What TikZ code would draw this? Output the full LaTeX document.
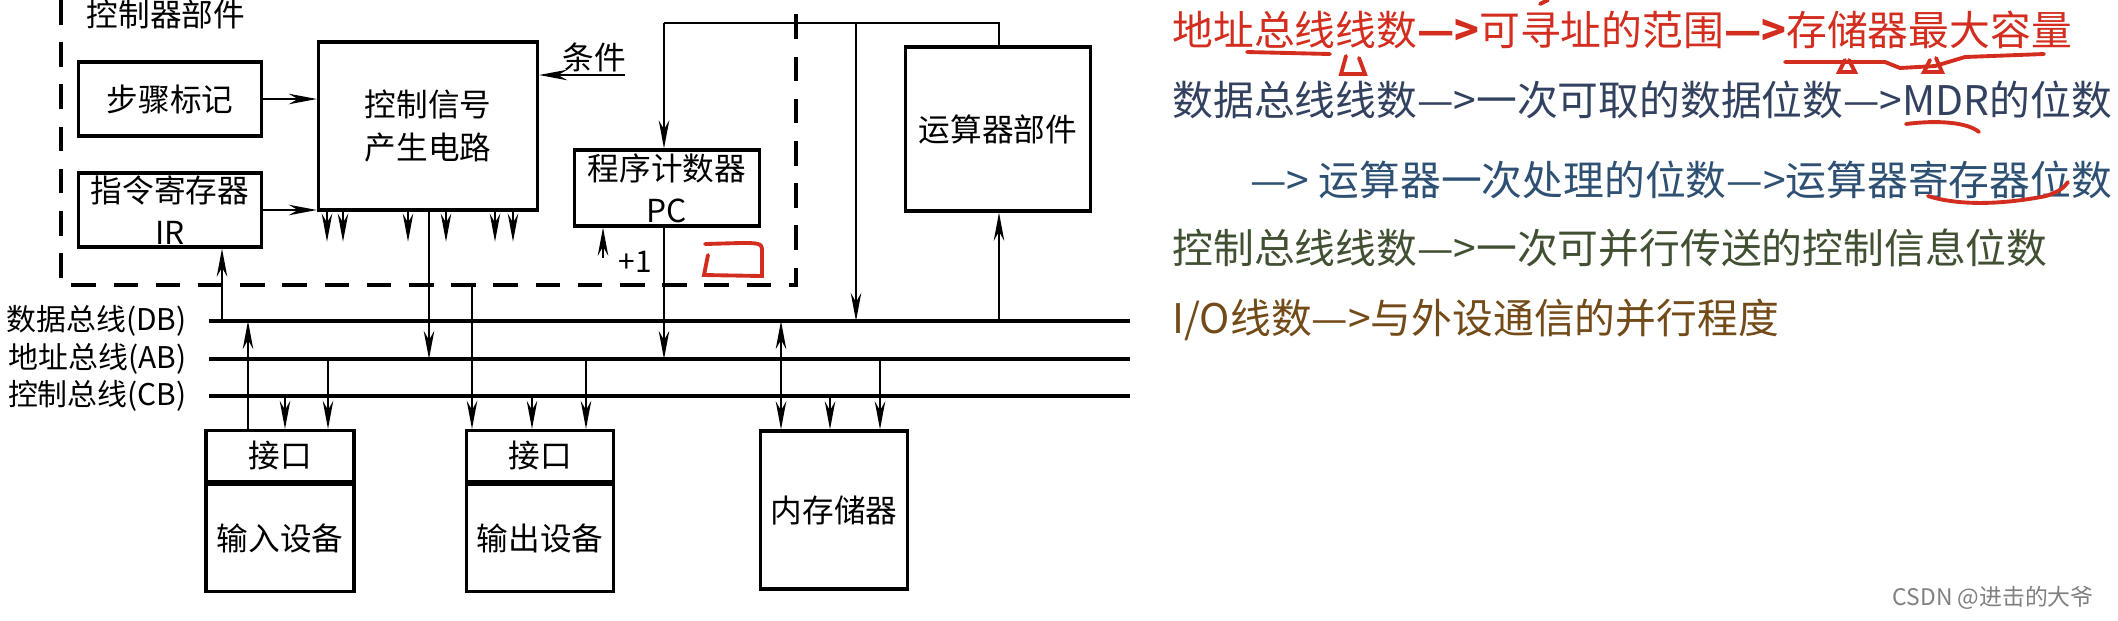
\documentclass[tikz,border=0pt]{standalone}
\usepackage{fontspec}
\setmainfont{Noto Sans CJK SC}
\usetikzlibrary{arrows.meta}
\definecolor{notered}{RGB}{210,45,30}
\definecolor{noteblue}{RGB}{50,65,95}
\definecolor{noteteal}{RGB}{45,80,115}
\definecolor{notegreen}{RGB}{65,80,50}
\definecolor{notebrown}{RGB}{115,75,25}
\begin{document}
\begin{tikzpicture}[x=0.01cm,y=-0.01cm,
  box/.style={draw,line width=0.9pt,inner sep=0pt,align=center,font=\fontsize{9}{12}\selectfont},
  lbl/.style={font=\fontsize{8.5}{12}\selectfont},
  arr/.style={-{Stealth[length=8pt,width=3pt]}},
  darr/.style={{Stealth[length=8pt,width=3pt]}-{Stealth[length=8pt,width=3pt]}},
  bus/.style={line width=1pt},
  note/.style={anchor=west,font=\fontsize{11.6}{14}\selectfont},
  scrib/.style={draw=notered,line width=1.1pt,line cap=round}]
\useasboundingbox (0,0) rectangle (2118,620);
% controller part
\draw[line width=0.9pt,dash pattern=on 7pt off 5pt] (61,0)--(61,285)--(796,285)--(796,0);
\node[lbl,font=\fontsize{9}{12}\selectfont] (title) at (166,14) {控制器部件};
\node[box,minimum width=1.83cm,minimum height=0.74cm] (step) at (170,99) {步骤标记};
\node[box,minimum width=1.83cm,minimum height=0.74cm] (ir) at (170,210) {指令寄存器\\IR};
\node[box,minimum width=2.19cm,minimum height=1.68cm] (ctrl) at (428,126) {控制信号\\产生电路};
\node[box,minimum width=1.85cm,minimum height=0.76cm] (pc) at (667,188) {程序计数器\\PC};
\node[box,minimum width=1.85cm,minimum height=1.64cm] (alu) at (998,129) {运算器部件};
\draw[arr] (step.east)--(ctrl.west |- step.east);
\draw[arr] (ir.east)--(ctrl.west |- ir.east);
\node[lbl,font=\fontsize{9}{12}\selectfont] (cond) at (594,57) {条件};
\coordinate (condin) at (625,75);
\draw[arr] (condin)--(ctrl.east |- condin);
\foreach \x in {327,343,408,446,495,513}
  \draw[arr] (ctrl.south -| \x,0)--++(0,30);
\coordinate (plus) at (603,258);
\draw[arr] (plus)--(pc.south -| plus);
\node[lbl,anchor=west] at (606,262) {+1};
% buses
\coordinate (db) at (209,321);
\coordinate (ab) at (209,359);
\coordinate (cb) at (209,396);
\foreach \b/\t in {db/数据总线(DB),ab/地址总线(AB),cb/控制总线(CB)}{
  \draw[bus] (\b)--++(921,0);
  \node[lbl,anchor=east] at ([xshift=-0.1cm]\b) {\t};
}
% devices
\node[box,minimum width=1.48cm,minimum height=0.51cm] (inif) at (280,456) {接口};
\node[box,minimum width=1.48cm,minimum height=1.07cm,anchor=north] (indev) at (inif.south) {输入设备};
\node[box,minimum width=1.47cm,minimum height=0.51cm] (outif) at (540,456) {接口};
\node[box,minimum width=1.47cm,minimum height=1.07cm,anchor=north] (outdev) at (outif.south) {输出设备};
\node[box,minimum width=1.47cm,minimum height=1.58cm] (mem) at (834,510) {内存储器};
% connections
\draw[arr] (db -| 222,0)--(ir.south -| 222,0);
\draw[arr] (ctrl.south -| 429,0)--(ab -| 429,0);
\draw[arr] (472,285)--(outif.north -| 472,0);
\draw[arr] (inif.north -| 248,0)--(db -| 248,0);
\draw[arr] (cb -| 285,0)--(inif.north -| 285,0);
\draw[arr] (ab -| 328,0)--(inif.north -| 328,0);
\draw[arr] (cb -| 532,0)--(outif.north -| 532,0);
\draw[arr] (ab -| 586,0)--(outif.north -| 586,0);
\draw[arr] (pc.south -| 664,0)--(ab -| 664,0);
\draw[darr] (db -| 781,0)--(mem.north -| 781,0);
\draw[arr] (cb -| 830,0)--(mem.north -| 830,0);
\draw[arr] (ab -| 880,0)--(mem.north -| 880,0);
\coordinate (top) at (664,23);
\draw[arr] (top)--(pc.north -| top);
\draw (top)--(999,23)--(alu.north -| 999,0);
\draw[arr] (856,23)--(db -| 856,0);
\draw[arr] (db -| 999,0)--(alu.south -| 999,0);
% notes
\node[note,text=notered] (n1) at (1160,30) {地址总线线数\textbf{—>}可寻址的范围\textbf{—>}存储器最大容量};
\node[note,text=noteblue] (n2) at (1160,100) {数据总线线数—>一次可取的数据位数—>MDR的位数};
\node[note,text=noteteal] (n3) at (1238,180) {—> 运算器一次处理的位数—>运算器寄存器位数};
\node[note,text=notegreen] (n4) at (1160,248) {控制总线线数—>一次可并行传送的控制信息位数};
\node[note,text=notebrown] (n5) at (1160,320) {I/O线数—>与外设通信的并行程度};
\node[anchor=east,text=gray,font=\fontsize{6.5}{8}\selectfont] (mark) at (2106,598) {CSDN @进击的大爷};
% red marks
\draw[scrib] (1247,52)--(1330,54);
\draw[scrib] (1346,56)--(1341,74)--(1365,74)--(1359,58);
\draw[scrib] (1785,62)--(1885,62)--(1900,68)--(1935,66)--(1965,57)--(2044,54);
\draw[scrib] (1845,60)--(1839,72)--(1855,72)--(1849,60);
\draw[scrib] (1930,60)--(1924,72)--(1942,72)--(1936,58);
\draw[scrib] (1540,4)--(1548,0);
\draw[scrib] (1906,124)..controls (1937,120) and (1967,122)..(1979,132);
\draw[scrib] (1928,196)..controls (1966,208) and (2016,202)..(2046,196)..controls (2058,192) and (2064,188)..(2068,182);
\draw[scrib] (708,255)--(704,275)--(762,276)--(762,250)..controls (762,243) and (758,243)..(740,243)--(705,244);
\end{tikzpicture}
\end{document}
